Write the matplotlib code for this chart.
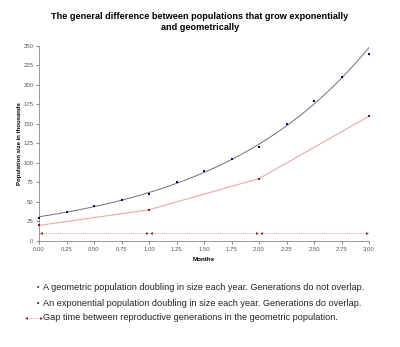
import numpy as np
import matplotlib.pyplot as plt

# Exponential population, sampled every quarter month (thousands)
months_exp = [0.00, 0.25, 0.50, 0.75, 1.00, 1.25, 1.50, 1.75, 2.00, 2.25, 2.50, 2.75, 3.00]
size_exp = [30, 37.5, 45, 52.5, 60, 75, 90, 105, 120, 150, 180, 210, 240]

# Geometric population, one value per generation (thousands)
months_geo = [0, 1, 2, 3]
size_geo = [20, 40, 80, 160]

# Gaps between reproductive generations
gap_start = [0.02, 1.02, 2.02]
gap_end = [0.98, 1.98, 2.98]
gap_level = 10

x_ticks = [0.00, 0.25, 0.50, 0.75, 1.00, 1.25, 1.50, 1.75, 2.00, 2.25, 2.50, 2.75, 3.00]
y_ticks = [0, 25, 50, 75, 100, 125, 150, 175, 200, 225, 250]

legend_texts = [
    'A geometric population doubling in size each year. Generations do not overlap.',
    'An exponential population doubling in size each year. Generations do overlap.',
    'Gap time between reproductive generations in the geometric population.',
]

plt.rcParams['font.family'] = ['Liberation Sans', 'DejaVu Sans']

fig = plt.figure(figsize=(4.0, 3.47), dpi=100)
ax = fig.add_axes([0.0975, 0.3055, 0.825, 0.562])

blue = '#000080'
darkred = '#7b1a1a'
pink = '#e8a8a8'

# Exponential trend line fitted to the exponential series
b, a = np.polyfit(months_exp, np.log(size_exp), 1)
xs = np.linspace(0, 3, 200)
ax.plot(xs, np.exp(a + b * xs), color='#707070', lw=0.7, zorder=2)
ax.plot(months_exp, size_exp, ls='none', marker='s', ms=2.1, color=blue,
        markeredgewidth=0, zorder=3, clip_on=False)

# Geometric series
ax.plot(months_geo, size_geo, color=pink, lw=0.8, zorder=2)
ax.plot(months_geo, size_geo, ls='none', marker='s', ms=2.1, color=darkred,
        markeredgewidth=0, zorder=3, clip_on=False)

# Generation gaps as dotted segments with end markers
for s, e in zip(gap_start, gap_end):
    ax.plot([s, e], [gap_level, gap_level], color='#e07070', lw=0.6, ls=(0, (1, 1.5)), zorder=2)
    ax.plot([s], [gap_level], marker='<', ms=2, color=darkred, markeredgewidth=0, zorder=3)
    ax.plot([e], [gap_level], marker='>', ms=2, color=darkred, markeredgewidth=0, zorder=3)

ax.set_xlim(0, 3)
ax.set_ylim(0, 250)
ax.set_xticks(x_ticks)
ax.set_xticklabels(['%.2f' % t for t in x_ticks])
ax.set_yticks(y_ticks)
ax.tick_params(axis='both', labelsize=4.3, colors='#555555', length=2, width=0.5, pad=2)
for side in ['top', 'right']:
    ax.spines[side].set_visible(False)
for side in ['left', 'bottom']:
    ax.spines[side].set_color('#888888')
    ax.spines[side].set_linewidth(0.6)

ax.set_xlabel('Months', fontsize=4.5, weight='bold', labelpad=4)
ax.set_ylabel('Population size in thousands', fontsize=4.3, weight='bold', labelpad=1)

fig.text(0.5, 0.965, 'The general difference between populations that grow exponentially\nand geometrically',
         ha='center', va='top', fontsize=6.6, weight='bold', linespacing=1.25)

# Legend lines beneath the chart
rows_y = [1 - 288 / 347, 1 - 303 / 347, 1 - 318 / 347]
tx = 43 / 400
fig.text(tx - 0.012, rows_y[0], '•', color=darkred, fontsize=5, ha='center', va='center')
fig.text(tx - 0.012, rows_y[1], '•', color=blue, fontsize=5, ha='center', va='center')
fig.lines.append(plt.Line2D([26 / 400, 41 / 400], [rows_y[2], rows_y[2]], transform=fig.transFigure,
                            color='#e07070', lw=0.6, ls=(0, (1, 1.5))))
fig.lines.append(plt.Line2D([26 / 400], [rows_y[2]], transform=fig.transFigure,
                            marker='<', ms=2, color=darkred, markeredgewidth=0))
fig.lines.append(plt.Line2D([41 / 400], [rows_y[2]], transform=fig.transFigure,
                            marker='>', ms=2, color=darkred, markeredgewidth=0))
for y, t in zip(rows_y, legend_texts):
    fig.text(tx, y, t, fontsize=6.6, ha='left', va='center', color='#222222')

fig.savefig('out.png', dpi=100)
